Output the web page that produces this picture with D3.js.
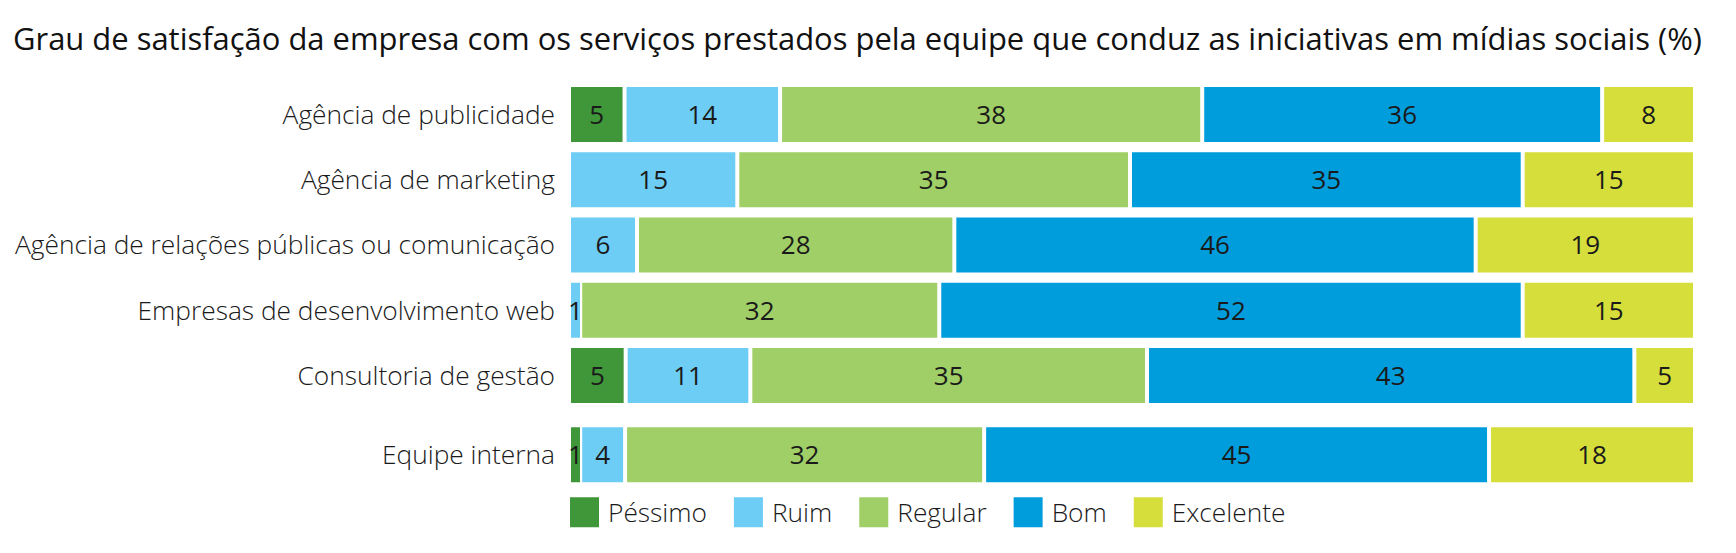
<!DOCTYPE html>
<html>
<head>
<meta charset="utf-8">
<script src="https://cdn.jsdelivr.net/npm/d3@7"></script>
<style>
  html, body { margin: 0; padding: 0; background: #fff; }
  svg { display: block; }
  text { font-family: "Open Sans", "DejaVu Sans", sans-serif; }
</style>
</head>
<body>
<svg id="chart" width="1736" height="553"></svg>
<script>
const title = "Grau de satisfação da empresa com os serviços prestados pela equipe que conduz as iniciativas em mídias sociais (%)";
const categories = [
  "Agência de publicidade",
  "Agência de marketing",
  "Agência de relações públicas ou comunicação",
  "Empresas de desenvolvimento web",
  "Consultoria de gestão",
  "Equipe interna"
];
const seriesNames = ["Péssimo", "Ruim", "Regular", "Bom", "Excelente"];
const pessimo   = [5, 0, 0, 0, 5, 1];
const ruim      = [14, 15, 6, 1, 11, 4];
const regular   = [38, 35, 28, 32, 35, 32];
const bom       = [36, 35, 46, 52, 43, 45];
const excelente = [8, 15, 19, 15, 5, 18];
const colors = ["#3f9739", "#6dcdf5", "#a0cf67", "#009ddc", "#d6de3b"];

const seriesValues = [pessimo, ruim, regular, bom, excelente];

(function () {
const svg = d3.select("#chart");
const plotLeft = 571, plotRight = 1693, plotTop = 87;
const bandH = 55, step = 65.25, groupGap = 14, segGap = 4, minSeg = 12;

const y = d3.scaleBand()
  .domain(categories)
  .range([plotTop, plotTop + (categories.length - 1) * step + bandH])
  .paddingInner((step - bandH) / step)
  .paddingOuter(0);
const yPos = (c, i) => y(c) + (i === categories.length - 1 ? groupGap : 0);

const color = d3.scaleOrdinal().domain(seriesNames).range(colors);

// Title
const t = svg.append("text")
  .attr("x", 13).attr("y", 50)
  .attr("font-size", 28)
  .attr("fill", "#111")
  .text(title);
const tw = t.node().getComputedTextLength();
t.attr("font-size", 28 * 1690 / tw);

// Rows
categories.forEach((cat, i) => {
  const vals = seriesValues.map(s => s[i]);
  const total = d3.sum(vals);
  const x = d3.scaleLinear().domain([0, total]).range([plotLeft, plotRight]);
  const y0 = yPos(cat, i);
  const g = svg.append("g");
  let acc = 0;
  let lastIdx = -1;
  vals.forEach((v, k) => { if (v > 0) lastIdx = k; });
  vals.forEach((v, k) => {
    if (v <= 0) return;
    const x0 = x(acc), x1 = x(acc + v);
    acc += v;
    const w = (k === lastIdx) ? x1 - x0 : Math.max(x1 - x0 - segGap, minSeg - segGap + 1);
    g.append("rect")
      .attr("x", x0).attr("y", y0)
      .attr("width", w).attr("height", y.bandwidth())
      .attr("fill", color(seriesNames[k]));
    g.append("text")
      .attr("x", x0 + w / 2)
      .attr("y", y0 + y.bandwidth() / 2)
      .attr("dy", "0.36em")
      .attr("text-anchor", "middle")
      .attr("font-size", 26)
      .attr("fill", "#1a1a1a")
      .text(v);
  });
  svg.append("text")
    .attr("x", 555)
    .attr("y", y0 + y.bandwidth() / 2)
    .attr("dy", "0.36em")
    .attr("text-anchor", "end")
    .attr("font-size", 26.3)
    .attr("font-weight", 300)
    .attr("fill", "#1a1a1a")
    .text(cat);
});

// Legend
const lastCat = categories[categories.length - 1];
const legY = yPos(lastCat, categories.length - 1) + y.bandwidth() + 15;
let lx = plotLeft - 1;
const leg = svg.append("g");
seriesNames.forEach((name, k) => {
  leg.append("rect")
    .attr("x", lx).attr("y", legY)
    .attr("width", 29).attr("height", 30)
    .attr("fill", color(name));
  const tx = leg.append("text")
    .attr("x", lx + 38)
    .attr("y", legY + 15)
    .attr("dy", "0.36em")
    .attr("font-size", 26.3)
    .attr("font-weight", 300)
    .attr("fill", "#1a1a1a")
    .text(name);
  lx += 38 + tx.node().getComputedTextLength() + 27;
});
})();
</script>
</body>
</html>
